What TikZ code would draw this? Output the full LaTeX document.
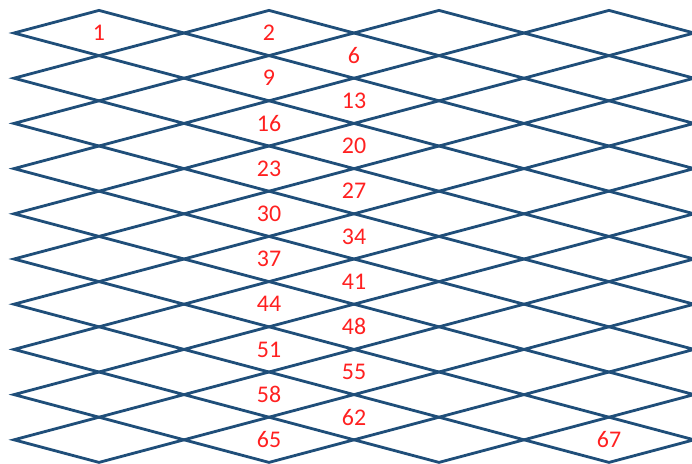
\documentclass[tikz,border=0pt]{standalone}
\usepackage{fontspec}
\setmainfont{Carlito}
\definecolor{gridblue}{HTML}{1F4E79}
\definecolor{numred}{HTML}{FF2020}
\tikzset{
  cell/.style={draw=gridblue, line width=2pt, line join=miter},
  num/.style={text=numred, font=\fontsize{17}{20}\selectfont, inner sep=0pt}
}
\begin{document}
\begin{tikzpicture}[x=0.025cm, y=-0.025cm]
  \useasboundingbox (0,0) rectangle (692,463);
  % diamonds, 10 rows of 4
  \foreach \r in {0,...,9} {
    \foreach \c in {0,...,3} {
      \draw[cell] (14+170*\c,33+45.2*\r) -- (99+170*\c,10.4+45.2*\r)
        -- (184+170*\c,33+45.2*\r) -- (99+170*\c,55.6+45.2*\r) -- cycle;
    }
  }
  % numbers in the main diamonds
  \node[num] (n1) at (99,33) {1};
  \node[num] (n2) at (269,33) {2};
  \node[num] (n9) at (269,78.2) {9};
  \node[num] (n16) at (269,123.4) {16};
  \node[num] (n23) at (269,168.6) {23};
  \node[num] (n30) at (269,213.8) {30};
  \node[num] (n37) at (269,259) {37};
  \node[num] (n44) at (269,304.2) {44};
  \node[num] (n51) at (269,349.4) {51};
  \node[num] (n58) at (269,394.6) {58};
  \node[num] (n65) at (269,439.8) {65};
  \node[num] (n67) at (609,439.8) {67};
  % numbers in the diamonds between
  \node[num] (n6) at (354,55.6) {6};
  \node[num] (n13) at (354,100.8) {13};
  \node[num] (n20) at (354,146) {20};
  \node[num] (n27) at (354,191.2) {27};
  \node[num] (n34) at (354,236.4) {34};
  \node[num] (n41) at (354,281.6) {41};
  \node[num] (n48) at (354,326.8) {48};
  \node[num] (n55) at (354,372) {55};
  \node[num] (n62) at (354,417.2) {62};
\end{tikzpicture}
\end{document}
